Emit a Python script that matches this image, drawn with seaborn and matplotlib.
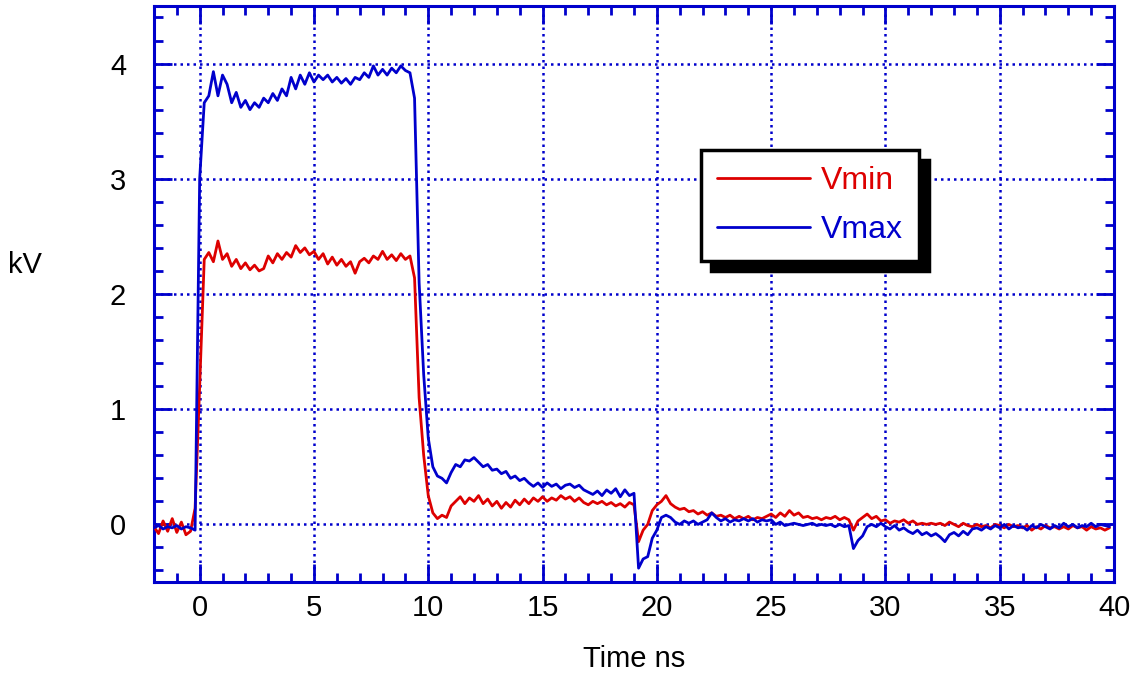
import numpy as np
import pandas as pd
import seaborn as sns
import matplotlib.pyplot as plt
from matplotlib.ticker import MultipleLocator

# sample times (ns), scope sampling grid of 0.2 ns
time = np.round(np.arange(-2.0, 39.81, 0.2), 1)

# Vmin trace (kV)
vmin = [
    -0.02, -0.08, 0.03, -0.06, 0.05,
    -0.07, 0.02, -0.09, -0.06, 0.14,
    1.2, 2.3, 2.36, 2.28, 2.46,
    2.3, 2.35, 2.24, 2.3, 2.22,
    2.27, 2.21, 2.25, 2.2, 2.22,
    2.33, 2.27, 2.35, 2.3, 2.36,
    2.32, 2.42, 2.36, 2.4, 2.34,
    2.37, 2.3, 2.35, 2.26, 2.32,
    2.25, 2.3, 2.24, 2.28, 2.18,
    2.28, 2.31, 2.27, 2.33, 2.3,
    2.37, 2.3, 2.34, 2.29, 2.35,
    2.3, 2.33, 2.14, 1.1, 0.6,
    0.25, 0.1, 0.05, 0.08, 0.06,
    0.16, 0.2, 0.24, 0.18, 0.23,
    0.2, 0.25, 0.18, 0.22, 0.16,
    0.2, 0.14, 0.19, 0.15, 0.21,
    0.17, 0.22, 0.18, 0.23, 0.2,
    0.24, 0.2, 0.23, 0.21, 0.25,
    0.22, 0.24, 0.2, 0.23, 0.19,
    0.17, 0.2, 0.18, 0.2, 0.17,
    0.19, 0.16, 0.18, 0.15, 0.19,
    0.17, -0.15, -0.05, 0.0, 0.12,
    0.17, 0.2, 0.25, 0.18, 0.15,
    0.13, 0.14, 0.11, 0.12, 0.09,
    0.11, 0.08, 0.1, 0.07, 0.08,
    0.06, 0.08, 0.05, 0.07, 0.05,
    0.07, 0.04, 0.06, 0.05, 0.07,
    0.09, 0.06, 0.1, 0.07, 0.12,
    0.08, 0.1, 0.06, 0.07, 0.05,
    0.06, 0.04, 0.06, 0.05, 0.07,
    0.04, 0.06, 0.04, -0.05, 0.03,
    0.06, 0.09, 0.05, 0.07, 0.03,
    0.04, 0.01, 0.03, 0.02, 0.04,
    0.01, 0.03, 0.0, 0.01, 0.0,
    0.01, 0.0, 0.01, -0.01, 0.02,
    0.0, -0.02, 0.01, -0.01, -0.02,
    0.0, -0.02, -0.01, -0.03, 0.0,
    -0.01, -0.03, 0.0, -0.02, -0.01,
    -0.03, -0.01, -0.05, -0.02, -0.04,
    -0.01, -0.03, -0.02, -0.04, -0.02,
    -0.04, -0.01, -0.03, -0.02, -0.05,
    -0.02, -0.04, -0.03, -0.05, -0.03,
]

# Vmax trace (kV)
vmax = [
    -0.03, -0.01, -0.04, -0.02, -0.03,
    -0.01, -0.04, -0.02, -0.03, -0.05,
    3.0, 3.66, 3.72, 3.93, 3.72,
    3.9, 3.82, 3.66, 3.75, 3.62,
    3.68, 3.6, 3.66, 3.62, 3.7,
    3.66, 3.74, 3.68, 3.78, 3.72,
    3.88, 3.78, 3.9, 3.82, 3.92,
    3.84, 3.9, 3.86, 3.9, 3.84,
    3.88, 3.83, 3.87, 3.82, 3.88,
    3.86, 3.92, 3.88, 3.98, 3.9,
    3.95, 3.9, 3.96, 3.92, 3.98,
    3.94, 3.92, 3.7, 2.1, 1.3,
    0.75, 0.5, 0.42, 0.4, 0.36,
    0.45, 0.52, 0.5, 0.56, 0.55,
    0.58, 0.54, 0.5, 0.52, 0.47,
    0.48, 0.44, 0.46, 0.4, 0.42,
    0.38, 0.4, 0.36, 0.33, 0.36,
    0.32, 0.36, 0.33, 0.35, 0.31,
    0.34, 0.35, 0.32, 0.34, 0.3,
    0.28, 0.26, 0.29, 0.25, 0.3,
    0.27, 0.31, 0.24, 0.3, 0.25,
    0.27, -0.38, -0.3, -0.28, -0.12,
    -0.05, 0.06, 0.08, 0.06, 0.02,
    0.0, 0.03, 0.01, 0.03, 0.0,
    0.02, 0.04, 0.1, 0.06, 0.03,
    0.05, 0.02, 0.04, 0.03, 0.05,
    0.03, 0.05, 0.02, 0.04, 0.03,
    0.04, 0.0, 0.02, -0.01, 0.0,
    0.01, 0.0, -0.01, 0.0, 0.01,
    -0.01, 0.0, -0.01, 0.0, -0.02,
    0.0, -0.02, -0.01, -0.21, -0.14,
    -0.1, -0.02, 0.0, -0.02, 0.01,
    -0.02, -0.04, -0.01, -0.05, -0.03,
    -0.06, -0.08, -0.05, -0.09, -0.07,
    -0.1, -0.08, -0.11, -0.15, -0.09,
    -0.07, -0.1, -0.06, -0.09, -0.04,
    -0.03, -0.05, -0.02, -0.04, -0.01,
    -0.03, 0.0, -0.04, -0.01, -0.03,
    -0.02, -0.05, -0.01, -0.03, 0.0,
    -0.02, -0.04, -0.01, -0.03, 0.01,
    -0.02, 0.0, -0.03, -0.01, -0.02,
    0.01, -0.02, 0.0, -0.01, -0.02,
]

red = '#DD0000'
blue = '#0000CC'

df = pd.DataFrame({'time': time, 'Vmin': vmin, 'Vmax': vmax})

sns.set_style('ticks')
plt.rcParams['font.family'] = ['Liberation Sans', 'DejaVu Sans']
plt.rcParams['text.color'] = 'black'
plt.rcParams['axes.labelcolor'] = 'black'

fig = plt.figure(figsize=(11.37, 6.78), dpi=100)
ax = fig.add_axes([0.1354, 0.1416, 0.8444, 0.8496])

sns.lineplot(data=df, x='time', y='Vmin', color=red, lw=2, label='Vmin',
             estimator=None, sort=False, ax=ax, zorder=3)
sns.lineplot(data=df, x='time', y='Vmax', color=blue, lw=2, label='Vmax',
             estimator=None, sort=False, ax=ax, zorder=3)

ax.set_xlim(-2, 40)
ax.set_ylim(-0.5, 4.5)
ax.xaxis.set_major_locator(MultipleLocator(5))
ax.xaxis.set_minor_locator(MultipleLocator(1))
ax.yaxis.set_major_locator(MultipleLocator(1))
ax.yaxis.set_minor_locator(MultipleLocator(0.2))

#grid and frame in blue
ax.grid(True, which='major', color=blue, ls=(0, (1, 1.6)), lw=1.8, zorder=1)
for s in ax.spines.values():
    s.set_visible(True)
    s.set_color(blue)
    s.set_linewidth(2.2)
ax.tick_params(which='both', direction='in', top=True, right=True,
               color=blue, width=2, labelsize=21, labelcolor='black')
ax.tick_params(which='major', length=13)
ax.tick_params(which='minor', length=6.5)
ax.tick_params(axis='x', pad=9)
ax.tick_params(axis='y', pad=20)

ax.set_xlabel('Time ns', fontsize=21)
ax.set_ylabel('kV', fontsize=21, rotation=0, va='center')
ax.xaxis.set_label_coords(0.5, -0.11)
ax.yaxis.set_label_coords(-0.134, 0.55)

leg = ax.legend(loc='upper left', bbox_to_anchor=(0.57, 0.75), fontsize=23,
                handlelength=2.9, handletextpad=0.35, labelspacing=0.6,
                borderpad=0.5, borderaxespad=0, fancybox=False, framealpha=1,
                edgecolor='black', labelcolor='linecolor',
                shadow={'ox': 7, 'oy': -7, 'color': 'black', 'alpha': 1})
leg.get_frame().set_linewidth(2.5)
for ln in leg.get_lines():
    ln.set_linewidth(2)

plt.savefig('out.png', dpi=100)
